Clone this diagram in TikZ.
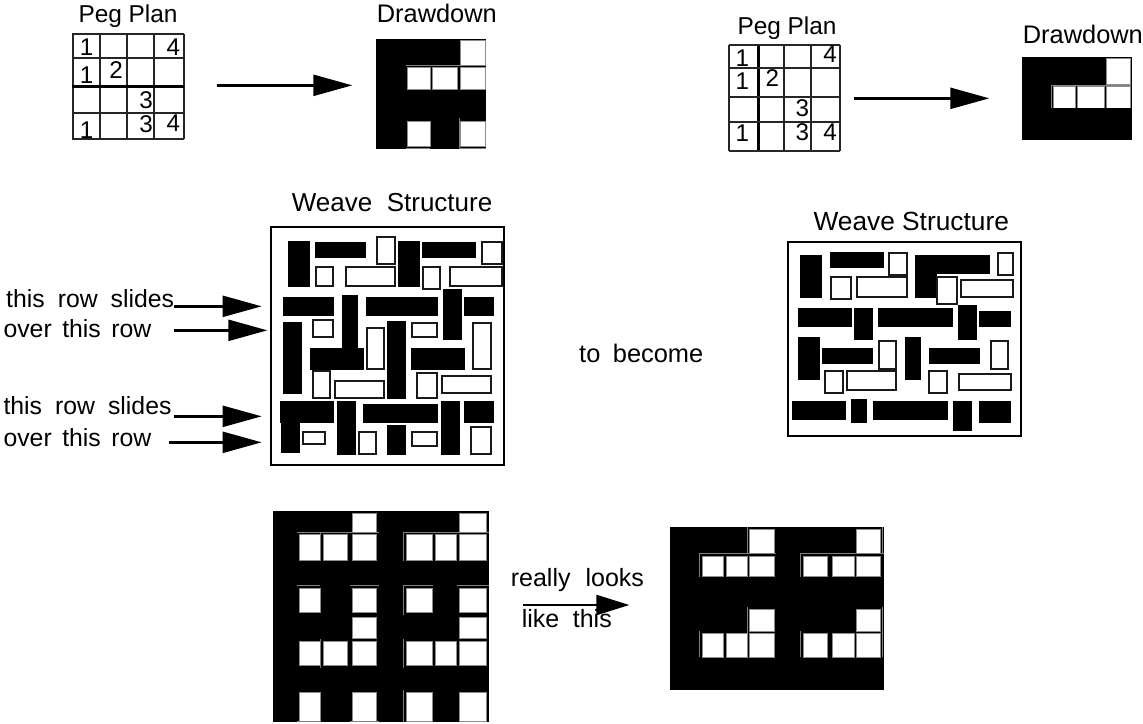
\documentclass[tikz,border=0pt]{standalone}
\usepackage{fontspec}
\setmainfont{Liberation Sans}
\usetikzlibrary{arrows.meta}
\newcommand{\blkbars}[1]{\foreach \a/\b/\c/\d in {#1} {\fill[black] (\a,\b) rectangle (\c,\d);}}
\newcommand{\whtbars}[1]{\foreach \a/\b/\c/\d in {#1} {\filldraw[barline] (\a,\b) rectangle (\c,\d);}}
\newcommand{\whtcells}[1]{\foreach \a/\b/\c/\d in {#1} {\filldraw[cellline] (\a,\b) rectangle (\c,\d);}}
\newcommand{\glines}[1]{\foreach \a/\b/\c/\d in {#1} {\draw[greyline] (\a,\b) -- (\c,\d);}}
\tikzset{
  txt/.style={anchor=base west,inner sep=0pt,font=\fontsize{24.4}{28}\selectfont},
  rowtxt/.style={anchor=base west,inner sep=0pt,font=\fontsize{24.8}{28}\selectfont},
  weavetxt/.style={anchor=base west,inner sep=0pt,font=\fontsize{26}{28}\selectfont},
  dig/.style={anchor=base,inner sep=0pt,font=\fontsize{24.2}{28}\selectfont},
  barline/.style={fill=white,draw=black!90,line width=2.1pt},
  cellline/.style={fill=white,draw=black!45,line width=.8pt},
  greyline/.style={draw=black!50,line width=.9pt},
  gridline/.style={draw=black!85,line width=2pt},
  frameline/.style={draw=black,line width=2.1pt},
  bigarrow/.style={draw=black,line width=2.4pt,-{Triangle[length=39pt,width=21pt]}},
}
\begin{document}
\begin{tikzpicture}[x=1pt,y=-1pt]
\path[use as bounding box] (0,0) rectangle (1143,723);

% ---------- top-left peg plan, drawdown
\begin{scope}[shift={(40,0)},scale=0.33333]
  \node[txt] (peg1) at (115,68) {Peg Plan};
  \node[txt,font=\fontsize{25.4}{28}\selectfont] (draw1) at (1010,68) {Drawdown};
  \foreach \x in {100,180,262,342,431} {\draw[gridline] (\x,102) -- (\x,418);}
  \foreach \y in {102,175,338,418} {\draw[gridline] (97,\y) -- (433,\y);}
  \draw[draw=black,line width=3.6pt] (97,260) -- (433,260);
  \node[dig] (p1a) at (140,165) {1};
  \node[dig] (p1b) at (400,165) {4};
  \node[dig] (p1c) at (140,250) {1};
  \node[dig] (p1d) at (228,235) {2};
  \node[dig] (p1e) at (318,325) {3};
  \node[dig] (p1f) at (140,415) {1};
  \node[dig] (p1g) at (318,398) {3};
  \node[dig] (p1h) at (400,395) {4};
  \coordinate (a1s) at (530,256);
  \coordinate (a1e) at (937,256);
  \draw[bigarrow] (a1s) -- (a1e);
  \blkbars{1008/118/1338/446}
  \whtcells{1262/122/1335/195,1103/203/1172/268,1176/203/1252/268,1262/203/1335/268,1103/363/1172/438,1262/363/1335/440}
  \glines{1098/197/1338/197,1098/445/1170/445,1258/445/1338/445,1258/355/1258/445}
\end{scope}

% ---------- top-right peg plan, drawdown
\begin{scope}[shift={(680,0)},scale=0.33333]
  \node[txt] (peg2) at (172,102) {Peg Plan};
  \node[txt,font=\fontsize{25.4}{28}\selectfont] (draw2) at (1028,130) {Drawdown};
  \foreach \x in {148,312,392,480} {\draw[gridline] (\x,135) -- (\x,452);}
  \draw[draw=black,line width=3.4pt] (236,135) -- (236,452);
  \foreach \y in {135,205,290,365,452} {\draw[gridline] (148,\y) -- (480,\y);}
  \node[dig] (p2a) at (187,198) {1};
  \node[dig] (p2b) at (450,188) {4};
  \node[dig] (p2c) at (187,268) {1};
  \node[dig] (p2d) at (277,260) {2};
  \node[dig] (p2e) at (367,348) {3};
  \node[dig] (p2f) at (187,425) {1};
  \node[dig] (p2g) at (367,420) {3};
  \node[dig] (p2h) at (450,420) {4};
  \coordinate (a2s) at (522,295);
  \coordinate (a2e) at (928,295);
  \draw[bigarrow] (a2s) -- (a2e);
  \blkbars{1026/172/1356/420}
  \whtcells{1279/176/1351/254,1119/260/1186/328,1192/260/1273/328,1279/260/1351/328}
  \fill[black] (1026,324) rectangle (1356,420);
  \glines{1115/256/1354/256,1115/256/1115/324}
\end{scope}

% ---------- left weave structure
\begin{scope}[shift={(0,190)},scale=0.33333]
  \node[weavetxt,execute at begin node={\spaceskip=14.5pt\relax}] (w1) at (875,65) {Weave Structure};
  \draw[frameline] (812,110) rectangle (1512,824);
  \blkbars{864/153/930/290,945/155/1098/203,1194/153/1260/290,1266/155/1428/203,849/321/1002/378,1026/315/1074/475,1098/321/1314/378,1329/297/1386/450,1392/321/1482/378,849/396/906/611,930/474/1092/540,1161/393/1218/626,1233/474/1395/540,840/633/1002/698,843/698/900/788,1011/633/1068/794,1089/642/1314/698,1323/633/1380/794,1392/633/1482/698,1161/705/1218/794}
  \whtbars{1132/141/1184/222,1445/157/1505/222,948/230/1000/288,1037/231/1184/288,1268/230/1320/296,1349/231/1505/288,940/390/1000/440,1101/413/1152/536,1236/398/1312/440,1420/398/1472/536,940/544/990/624,1004/574/1152/624,1252/550/1312/624,1325/558/1472/608,908/726/976/762,1076/726/1128/792,1236/726/1312/768,1413/710/1472/792}
  \node[rowtxt,execute at begin node={\spaceskip=13pt\relax}] (t1) at (18,352) {this row slides};
  \node[rowtxt,execute at begin node={\spaceskip=10.5pt\relax}] (t2) at (10,442) {over this row};
  \node[rowtxt,execute at begin node={\spaceskip=13pt\relax}] (t3) at (10,672) {this row slides};
  \node[rowtxt,execute at begin node={\spaceskip=10.5pt\relax}] (t4) at (10,768) {over this row};
  \coordinate (b1s) at (522,349);
  \coordinate (b1e) at (785,349);
  \coordinate (b2s) at (522,421);
  \coordinate (b2e) at (802,421);
  \coordinate (b3s) at (522,679);
  \coordinate (b3e) at (785,679);
  \coordinate (b4s) at (507,757);
  \coordinate (b4e) at (785,757);
  \draw[bigarrow] (b1s) -- (b1e);
  \draw[bigarrow] (b2s) -- (b2e);
  \draw[bigarrow] (b3s) -- (b3e);
  \draw[bigarrow] (b4s) -- (b4e);
\end{scope}

% ---------- right weave structure
\begin{scope}[shift={(770,200)},scale=0.33333]
  \node[weavetxt,font=\fontsize{26.3}{28}\selectfont] (w2) at (130,92) {Weave Structure};
  \draw[frameline] (53,127) rectangle (753,707);
  \blkbars{90/165/156/294,180/156/342/204,435/165/660/222,435/222/500/294,84/324/246/381,252/324/309/420,324/324/549/381,564/315/621/420,627/333/723/381,84/411/150/540,156/444/309/492,404/411/453/540,476/444/630/492,66/603/228/660,243/597/292/669,308/603/534/660,548/603/606/692,627/603/723/669}
  \whtbars{358/160/410/226,685/160/730/226,183/231/243/298,262/231/410/291,501/231/562/313,574/240/730/290,327/423/378/506,662/423/714/506,166/512/218/578,230/512/378/570,478/512/530/578,566/522/722/570}
\end{scope}

\node[txt,font=\fontsize{25.4}{28}\selectfont,execute at begin node={\spaceskip=12.5pt\relax}] (become) at (579,362) {to become};

% ---------- bottom-left drawdown
\begin{scope}[shift={(260,500)},scale=0.33333]
  \blkbars{38/33/686/666}
  \whtcells{277/40/350/97,598/40/680/97,118/104/182/182,190/104/262/182,277/104/350/182,438/104/518/182,526/104/590/182,598/104/680/182,118/264/180/336,277/264/350/336,438/264/518/336,598/264/680/336,277/352/350/416,598/352/680/416,118/424/182/496,190/424/262/496,277/424/350/496,438/424/518/496,526/424/590/496,598/424/680/496,118/577/180/664,277/577/350/664,438/577/518/664,598/577/680/664}
  \glines{110/97/356/97,430/97/686/97,110/257/180/257,270/257/356/257,430/257/518/257,592/257/686/257,430/97/430/182,430/257/430/345,430/416/430/505,430/570/430/665,182/97/182/182,182/416/182/505,110/663/180/663,270/663/356/663}
\end{scope}

% ---------- really looks like this
\begin{scope}[shift={(490,520)},scale=0.33333]
  \node[txt,font=\fontsize{25}{28}\selectfont,execute at begin node={\spaceskip=15pt\relax}] (rl) at (62,198) {really looks};
  \node[txt,font=\fontsize{25}{28}\selectfont,execute at begin node={\spaceskip=13.5pt\relax}] (lt) at (95,323) {like this};
  \coordinate (c1s) at (100,255);
  \coordinate (c1e) at (418,255);
  \draw[draw=black,line width=2.4pt,-{Triangle[length=33pt,width=20pt]}] (c1s) -- (c1e);
  \blkbars{540/22/1181/510}
  \whtcells{779/28/852/99,1100/28/1172/99,636/108/700/170,708/108/772/170,779/108/852/170,940/108/1012/170,1028/108/1092/170,1100/108/1172/170,779/268/852/333,1100/268/1172/333,636/341/700/412,708/341/772/412,779/341/852/412,940/341/1012/412,1028/341/1092/412,1100/341/1172/412}
  \glines{628/100/858/100,930/100/1181/100,628/100/628/170,930/100/930/170,628/333/628/412,930/333/930/412,772/20/772/100,772/260/772/340,1178/20/1178/100,1178/260/1178/412}
\end{scope}
\end{tikzpicture}
\end{document}
